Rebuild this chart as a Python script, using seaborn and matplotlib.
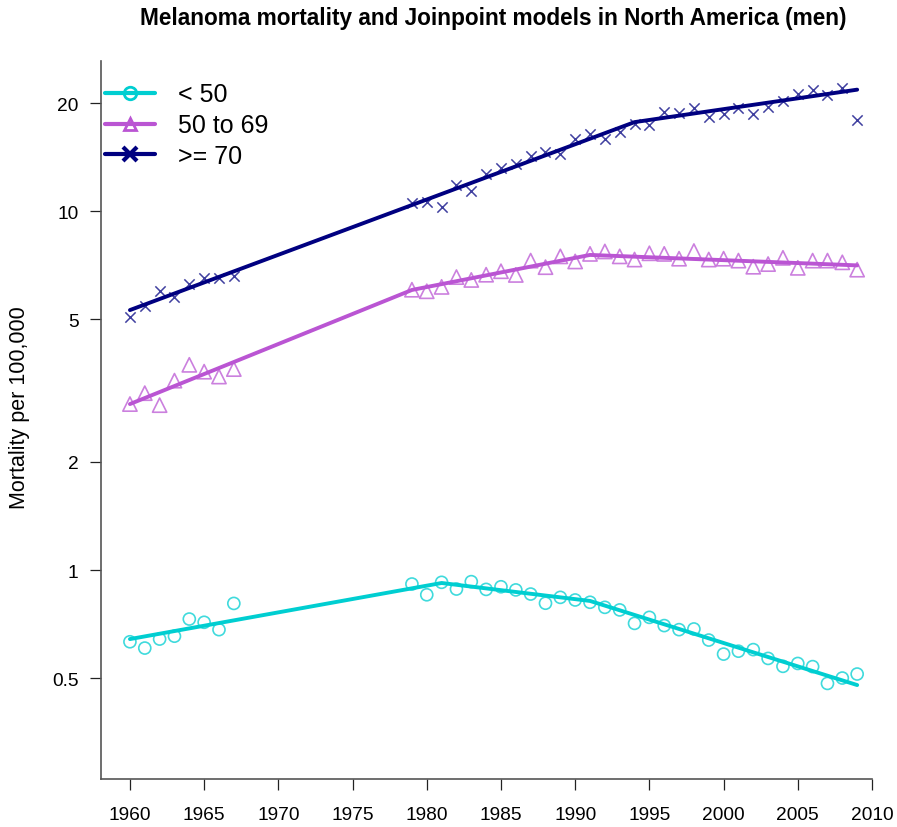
import numpy as np
import pandas as pd
import matplotlib
matplotlib.use("Agg")
import matplotlib.pyplot as plt
from matplotlib.lines import Line2D
import seaborn as sns

# ---- data ----
years = list(range(1960, 1968)) + list(range(1979, 2010))
under50 = [0.631, 0.606, 0.642, 0.654, 0.730, 0.715, 0.682, 0.807,
           0.914, 0.853, 0.924, 0.885, 0.928, 0.883, 0.898, 0.880, 0.857, 0.808,
           0.839, 0.825, 0.813, 0.787, 0.774, 0.710, 0.738, 0.700, 0.682, 0.685,
           0.638, 0.583, 0.594, 0.600, 0.567, 0.539, 0.549, 0.538, 0.483, 0.500, 0.513]
age50_69 = [2.90, 3.11, 2.88, 3.37, 3.73, 3.57, 3.46, 3.63,
            6.04, 5.98, 6.15, 6.55, 6.43, 6.65, 6.80, 6.64, 7.28, 6.98,
            7.48, 7.24, 7.60, 7.72, 7.48, 7.33, 7.63, 7.60, 7.37, 7.74,
            7.33, 7.37, 7.28, 7.00, 7.12, 7.41, 6.95, 7.28, 7.28, 7.20, 6.87]
age70plus = [5.07, 5.44, 5.99, 5.77, 6.27, 6.52, 6.52, 6.60,
             10.54, 10.6, 10.3, 11.8, 11.4, 12.7, 13.2, 13.5, 14.2, 14.6,
             14.4, 15.9, 16.4, 15.9, 16.6, 17.5, 17.4, 18.9, 18.8, 19.4,
             18.3, 18.6, 19.4, 18.6, 19.5, 20.3, 21.2, 21.7, 21.0, 22.0, 17.9]

fit_years_under50 = [1960, 1981, 1991, 2009]
fit_under50 = [0.642, 0.920, 0.820, 0.478]
fit_years_50_69 = [1960, 1979, 1991, 2009]
fit_50_69 = [2.90, 6.03, 7.55, 7.06]
fit_years_70plus = [1960, 1994, 2009]
fit_70plus = [5.3, 17.7, 21.8]

groups = ["< 50", "50 to 69", ">= 70"]
colors = {"< 50": "#00CED1", "50 to 69": "#BA55D3", ">= 70": "#000080"}
markers = {"< 50": "o", "50 to 69": "^", ">= 70": "x"}

x_ticks = [1960, 1965, 1970, 1975, 1980, 1985, 1990, 1995, 2000, 2005, 2010]
y_ticks = [0.5, 1, 2, 5, 10, 20]
y_ticklabels = ["0.5", "1", "2", "5", "10", "20"]

pts = pd.DataFrame({
    "year": years * 3,
    "rate": under50 + age50_69 + age70plus,
    "group": [groups[0]] * len(years) + [groups[1]] * len(years) + [groups[2]] * len(years),
})
fits = pd.DataFrame({
    "year": fit_years_under50 + fit_years_50_69 + fit_years_70plus,
    "rate": fit_under50 + fit_50_69 + fit_70plus,
    "group": [groups[0]] * len(fit_years_under50) + [groups[1]] * len(fit_years_50_69)
             + [groups[2]] * len(fit_years_70plus),
})

sns.set_style("white")
plt.rcParams["font.family"] = ["Liberation Sans", "DejaVu Sans"]
plt.rcParams["text.color"] = "black"
plt.rcParams["axes.labelcolor"] = "black"
plt.rcParams["xtick.color"] = "black"
plt.rcParams["ytick.color"] = "black"

fig = plt.figure(figsize=(8.97, 8.28), dpi=100)
ax = fig.add_axes([101 / 897, 1 - 780 / 828, (872 - 101) / 897, (780 - 62) / 828])

# observed points
for g in groups:
    sub = pts[pts["group"] == g]
    if markers[g] == "x":
        sns.scatterplot(data=sub, x="year", y="rate", ax=ax, marker="x",
                        color=colors[g], s=55, linewidth=1.1, alpha=0.75, legend=False)
    else:
        sns.scatterplot(data=sub, x="year", y="rate", ax=ax, marker=markers[g],
                        facecolor="none", edgecolor=colors[g], s=75 if g == "< 50" else 105,
                        linewidth=1.2, alpha=0.75, legend=False)

# joinpoint fits
for g in groups:
    sub = fits[fits["group"] == g]
    sns.lineplot(data=sub, x="year", y="rate", ax=ax, color=colors[g],
                 linewidth=2.8, legend=False, estimator=None, sort=False)

ax.set_yscale("log")
ax.set_xlim(1958.05, 2010)
ax.set_ylim(0.2616, 26.2)
ax.set_xticks(x_ticks)
ax.set_xticklabels([str(t) for t in x_ticks])
ax.set_yticks(y_ticks)
ax.set_yticklabels(y_ticklabels)
ax.yaxis.set_minor_locator(matplotlib.ticker.NullLocator())
ax.tick_params(axis="both", which="major", direction="out", length=8.2, width=0.9,
               color="#222222", labelsize=13.8, left=True, bottom=True)
ax.tick_params(axis="y", pad=8)
ax.tick_params(axis="x", pad=11.5)
ax.set_xlabel("")
ax.set_ylabel("Mortality per 100,000", fontsize=15.5)
ax.yaxis.set_label_coords((30 - 101) / 771, (780 - 408) / 718)

for s in ["top", "right"]:
    ax.spines[s].set_visible(False)
for s in ["left", "bottom"]:
    ax.spines[s].set_color("#555555")
    ax.spines[s].set_linewidth(1.2)

fig.text(493 / 897, 1 - 18 / 828,
         "Melanoma mortality and Joinpoint models in North America (men)",
         fontsize=16.3, fontweight="bold", ha="center", va="center")

handles = []
for g in groups:
    if markers[g] == "x":
        h = Line2D([0], [0], color=colors[g], lw=3, marker="x", markersize=10,
                   markeredgewidth=3)
    else:
        h = Line2D([0], [0], color=colors[g], lw=3, marker=markers[g], markersize=9,
                   markerfacecolor="none", markeredgewidth=2)
    handles.append(h)
leg = ax.legend(handles, groups, loc="upper left", bbox_to_anchor=(4 / 771, 1 - 21.5 / 718),
                frameon=False, fontsize=18, handlelength=2.0, handletextpad=0.9,
                labelspacing=0.27, borderaxespad=0.0, borderpad=0.0)

fig.savefig("out.png", dpi=100)
